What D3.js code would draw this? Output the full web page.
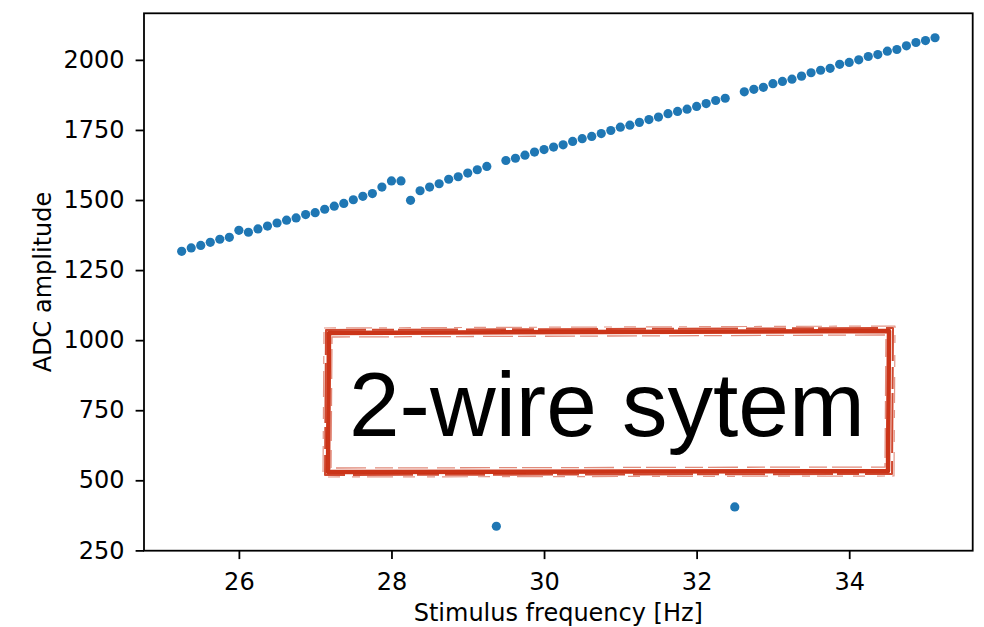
<!DOCTYPE html>
<html>
<head>
<meta charset="utf-8">
<script src="https://cdn.jsdelivr.net/npm/d3@7"></script>
<style>
  html, body { margin: 0; padding: 0; background: #fff; }
  svg { display: block; }
  .axis text { font-family: "DejaVu Sans", sans-serif; font-size: 24px; fill: #000; }
  .axis path, .axis line { stroke: #000; stroke-width: 1.8; }
</style>
</head>
<body>
<div id="chart"></div>
<script>
// measured points: stimulus frequency [Hz] vs ADC amplitude
const freq = [
  25.25, 25.375, 25.5, 25.625, 25.75, 25.875, 26.0, 26.125, 26.25, 26.375,
  26.5, 26.625, 26.75, 26.875, 27.0, 27.125, 27.25, 27.375, 27.5, 27.625,
  27.75, 27.875, 28.0, 28.125, 28.25, 28.375, 28.5, 28.625, 28.75, 28.875,
  29.0, 29.125, 29.25, 29.375, 29.5, 29.625, 29.75, 29.875, 30.0, 30.125,
  30.25, 30.375, 30.5, 30.625, 30.75, 30.875, 31.0, 31.125, 31.25, 31.375,
  31.5, 31.625, 31.75, 31.875, 32.0, 32.125, 32.25, 32.375, 32.5, 32.625,
  32.75, 32.875, 33.0, 33.125, 33.25, 33.375, 33.5, 33.625, 33.75, 33.875,
  34.0, 34.125, 34.25, 34.375, 34.5, 34.625, 34.75, 34.875, 35.0, 35.125
];
const amplitude = [
  1317, 1329, 1338, 1349, 1360, 1367, 1392, 1385, 1397, 1407,
  1418, 1428, 1436, 1448, 1455, 1467, 1478, 1488, 1501, 1513,
  1523, 1546, 1568, 1568, 1499, 1533, 1546, 1558, 1574, 1583,
  1596, 1608, 1620, 336, 1641, 1649, 1660, 1671, 1680, 1689,
  1697, 1709, 1719, 1727, 1737, 1748, 1760, 1767, 1777, 1787,
  1796, 1808, 1816, 1824, 1834, 1844, 1855, 1863, 405, 1886,
  1895, 1902, 1915, 1923, 1931, 1942, 1954, 1963, 1970, 1984,
  1991, 2000, 2012, 2019, 2031, 2037, 2050, 2062, 2069, 2079
];
const xTicks = [26, 28, 30, 32, 34];
const yTicks = [250, 500, 750, 1000, 1250, 1500, 1750, 2000];
const xLabel = "Stimulus frequency [Hz]";
const yLabel = "ADC amplitude";
const note = "2-wire sytem";

const width = 984, height = 627;
const plotLeft = 144, plotRight = 972.7, plotTop = 13.3, plotBottom = 550.7;

const svg = d3.select("#chart").append("svg")
  .attr("width", width)
  .attr("height", height);

// matplotlib-like 5% margins
function padded(values) {
  const [lo, hi] = d3.extent(values);
  const m = (hi - lo) * 0.05;
  return [lo - m, hi + m];
}

const x = d3.scaleLinear(padded(freq), [plotLeft, plotRight]);
const y = d3.scaleLinear(padded(amplitude), [plotBottom, plotTop]);

const xAxis = d3.axisBottom(x).tickValues(xTicks).tickSize(8.4).tickPadding(14).tickFormat(d3.format("d"));
const yAxis = d3.axisLeft(y).tickValues(yTicks).tickSize(8.4).tickPadding(11).tickFormat(d3.format("d"));

svg.append("g")
  .attr("class", "axis")
  .attr("transform", `translate(0,${plotBottom})`)
  .call(xAxis)
  .call(g => g.select(".domain").remove());

svg.append("g")
  .attr("class", "axis")
  .attr("transform", `translate(${plotLeft},0)`)
  .call(yAxis)
  .call(g => g.select(".domain").remove());

// frame
svg.append("rect")
  .attr("x", plotLeft).attr("y", plotTop)
  .attr("width", plotRight - plotLeft).attr("height", plotBottom - plotTop)
  .attr("fill", "none").attr("stroke", "#000").attr("stroke-width", 1.8);

// points
svg.append("g")
  .selectAll("circle")
  .data(freq.map((f, i) => ({ f, a: amplitude[i] })))
  .join("circle")
  .attr("cx", d => x(d.f))
  .attr("cy", d => y(d.a))
  .attr("r", 4.6)
  .attr("fill", "#1f77b4");

// labels
svg.append("text")
  .attr("x", (plotLeft + plotRight) / 2)
  .attr("y", 621)
  .attr("text-anchor", "middle")
  .style("font-family", "DejaVu Sans, sans-serif")
  .style("font-size", "24px")
  .text(xLabel);

svg.append("text")
  .attr("transform", `translate(51,${(plotTop + plotBottom) / 2}) rotate(-90)`)
  .attr("text-anchor", "middle")
  .style("font-family", "DejaVu Sans, sans-serif")
  .style("font-size", "24px")
  .text(yLabel);

// hand-drawn red box with the note
const box = svg.append("g");
box.append("rect")
  .attr("x", 327).attr("y", 330).attr("width", 564).attr("height", 144)
  .attr("fill", "#fff");

const red = "#c8290c";
const strokes = [
  { x0: 329, y0: 332, x1: 888, y1: 471, w: 4.5, o: 0.95, dash: null },
  { x0: 326, y0: 329, x1: 892, y1: 474, w: 2, o: 0.85, dash: "40 6 22 4 60 8" },
  { x0: 332, y0: 336, x1: 885, y1: 467, w: 1.3, o: 0.55, dash: "18 9 30 5" },
  { x0: 324, y0: 327, x1: 894, y1: 476, w: 1.2, o: 0.5, dash: "12 10 26 7 8 12" }
];
strokes.forEach(s => {
  box.append("path")
    .attr("d", `M${s.x0},${s.y0 + 1} L${s.x1 + 1},${s.y0 - 1} L${s.x1},${s.y1} L${s.x0 - 1},${s.y1 + 1} Z`)
    .attr("fill", "none")
    .attr("stroke", red)
    .attr("stroke-width", s.w)
    .attr("stroke-opacity", s.o)
    .attr("stroke-dasharray", s.dash)
    .attr("stroke-linejoin", "round");
});

box.append("text")
  .attr("x", 349)
  .attr("y", 436)
  .style("font-family", "Liberation Sans, Arial, sans-serif")
  .style("font-size", "91px")
  .attr("fill", "#000")
  .text(note);
</script>
</body>
</html>
